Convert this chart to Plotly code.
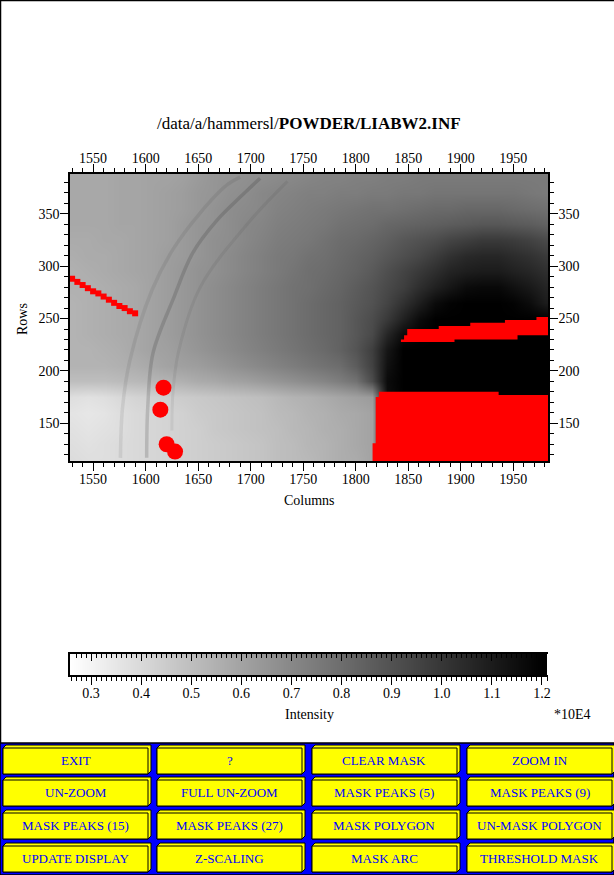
import plotly.graph_objects as go

W, H = 614, 875

# detector image, rows top to bottom, intensity in units of 10E4
col_vals = [1530, 1545, 1560, 1575, 1590, 1605, 1620, 1635, 1650, 1665, 1680, 1695, 1710, 1725, 1740, 1755,
            1770, 1785, 1800, 1815, 1830, 1845, 1860, 1875, 1890, 1905, 1920, 1935, 1950, 1965, 1980]
row_vals = [385, 370, 355, 340, 325, 310, 295, 280, 265, 250, 235, 220, 205, 190, 175, 160, 145, 130, 115]
intensity = [
    [.58, .58, .58, .59, .59, .60, .60, .61, .63, .65, .66, .67, .68, .69, .70, .71, .72, .72, .73, .73, .74, .74, .75, .75, .75, .75, .75, .75, .75, .75, .75],
    [.58, .58, .58, .59, .59, .60, .61, .62, .64, .65, .67, .68, .70, .71, .72, .73, .73, .74, .74, .75, .75, .76, .76, .77, .77, .77, .77, .77, .77, .76, .75],
    [.58, .58, .58, .59, .59, .60, .61, .62, .64, .66, .68, .69, .70, .72, .73, .74, .75, .76, .77, .78, .78, .79, .80, .81, .81, .82, .82, .82, .81, .80, .79],
    [.58, .58, .58, .59, .59, .60, .61, .63, .65, .66, .68, .70, .71, .73, .74, .75, .76, .78, .79, .80, .82, .83, .84, .85, .86, .87, .88, .88, .87, .86, .84],
    [.57, .57, .58, .58, .59, .60, .61, .63, .65, .67, .68, .70, .72, .74, .75, .76, .78, .80, .81, .83, .85, .88, .90, .92, .95, .97, .99, .99, .98, .96, .93],
    [.56, .57, .57, .58, .59, .60, .62, .63, .65, .67, .69, .71, .73, .75, .76, .78, .79, .81, .83, .85, .88, .91, .94, .98, 1.02, 1.05, 1.06, 1.06, 1.04, 1.02, .99],
    [.55, .56, .57, .58, .59, .60, .62, .64, .66, .67, .69, .71, .73, .75, .77, .79, .80, .82, .84, .87, .91, .95, .99, 1.03, 1.07, 1.09, 1.10, 1.10, 1.08, 1.06, 1.03],
    [.55, .55, .56, .57, .58, .60, .62, .64, .66, .68, .70, .72, .74, .76, .78, .79, .81, .83, .86, .89, .93, .97, 1.03, 1.08, 1.12, 1.16, 1.17, 1.17, 1.14, 1.11, 1.07],
    [.54, .55, .56, .57, .58, .60, .62, .64, .66, .68, .70, .72, .74, .76, .78, .80, .82, .84, .87, .90, .95, 1.02, 1.09, 1.16, 1.19, 1.20, 1.20, 1.20, 1.19, 1.16, 1.10],
    [.54, .55, .56, .57, .58, .60, .62, .64, .66, .68, .70, .72, .74, .76, .78, .80, .82, .84, .88, .92, .99, 1.08, 1.16, 1.20, 1.20, 1.20, 1.20, 1.20, 1.20, 1.20, 1.20],
    [.54, .55, .56, .57, .58, .60, .62, .64, .66, .68, .70, .72, .74, .76, .78, .80, .82, .84, .88, .93, 1.06, 1.16, 1.19, 1.20, 1.20, 1.20, 1.20, 1.20, 1.20, 1.20, 1.20],
    [.54, .54, .55, .56, .58, .60, .61, .63, .65, .67, .69, .71, .73, .75, .77, .79, .81, .84, .89, .97, 1.12, 1.20, 1.20, 1.20, 1.20, 1.20, 1.20, 1.20, 1.20, 1.20, 1.20],
    [.54, .54, .54, .55, .56, .58, .60, .61, .62, .64, .66, .68, .70, .72, .74, .76, .78, .80, .86, .96, 1.14, 1.20, 1.20, 1.20, 1.20, 1.20, 1.20, 1.20, 1.20, 1.20, 1.20],
    [.50, .50, .50, .51, .52, .53, .54, .55, .57, .58, .60, .61, .63, .65, .67, .69, .71, .74, .78, .92, 1.16, 1.20, 1.20, 1.20, 1.20, 1.20, 1.20, 1.20, 1.20, 1.20, 1.20],
    [.38, .37, .38, .40, .42, .43, .44, .45, .46, .47, .48, .49, .50, .52, .54, .55, .57, .59, .61, .63, 1.15, 1.20, 1.20, 1.20, 1.20, 1.20, 1.20, 1.20, 1.20, 1.20, 1.20],
    [.36, .35, .36, .38, .40, .41, .42, .43, .45, .46, .47, .48, .49, .51, .52, .54, .55, .57, .58, .60, 1.15, 1.20, 1.20, 1.20, 1.20, 1.20, 1.20, 1.20, 1.20, 1.20, 1.20],
    [.37, .36, .37, .38, .40, .41, .42, .43, .44, .46, .47, .48, .49, .50, .52, .53, .55, .56, .58, .60, 1.15, 1.20, 1.20, 1.20, 1.20, 1.20, 1.20, 1.20, 1.20, 1.20, 1.20],
    [.38, .37, .38, .39, .40, .41, .42, .43, .44, .45, .46, .47, .48, .50, .51, .53, .54, .56, .58, .60, 1.15, 1.20, 1.20, 1.20, 1.20, 1.20, 1.20, 1.20, 1.20, 1.20, 1.20],
    [.39, .38, .38, .39, .40, .41, .42, .43, .44, .45, .46, .47, .48, .50, .51, .52, .54, .56, .57, .60, 1.15, 1.20, 1.20, 1.20, 1.20, 1.20, 1.20, 1.20, 1.20, 1.20, 1.20],
]

# powder rings
ring1_x = [1576, 1578, 1585, 1606, 1626, 1652, 1678, 1690]
ring1_y = [117, 165, 210, 277, 316, 351, 378, 385]
ring2_x = [1601, 1602, 1607, 1626, 1645, 1668, 1690, 1709]
ring2_y = [117, 165, 217, 268, 313, 344, 366, 384]
ring3_x = [1625, 1626, 1631, 1652, 1700, 1735]
ring3_y = [143, 179, 217, 280, 344, 381]

# masked pixels
streak_x = [1530, 1535, 1540, 1545, 1550, 1555, 1560, 1565, 1570, 1575, 1580, 1585, 1590]
streak_y = [288, 285, 282, 279, 276, 274, 271, 268, 265, 262, 260, 257, 255]
spot_x = [1617, 1614, 1620, 1628]
spot_y = [184, 163, 130, 123]
lower_mask_x = [1816, 1816, 1819, 1819, 1822, 1822, 1936, 1936, 1983, 1983, 1816]
lower_mask_y = [114, 131, 131, 175, 175, 180, 180, 177, 177, 114, 114]
upper_mask_x = [1843, 1843, 1846, 1846, 1849, 1849, 1879, 1879, 1909, 1909, 1942, 1942, 1972, 1972, 1983,
                1983, 1954, 1954, 1894, 1894, 1843]
upper_mask_y = [227.5, 230, 230, 234, 234, 240, 240, 243, 243, 246, 246, 248.5, 248.5, 251.5, 251.5,
                234, 234, 230, 230, 227.5, 227.5]

cbar_levels = [.26, .30, .34, .38, .42, .46, .50, .54, .58, .62, .66, .70, .74, .78, .82, .86, .90, .94,
               .98, 1.02, 1.06, 1.10, 1.14, 1.18, 1.20]

x_ticks = [1550, 1600, 1650, 1700, 1750, 1800, 1850, 1900, 1950]
y_ticks = [150, 200, 250, 300, 350]
cbar_ticks = [.3, .4, .5, .6, .7, .8, .9, 1.0, 1.1, 1.2]
cbar_tick_text = ['0.3', '0.4', '0.5', '0.6', '0.7', '0.8', '0.9', '1.0', '1.1', '1.2']

button_labels = [
    ['EXIT', '?', 'CLEAR MASK', 'ZOOM IN'],
    ['UN-ZOOM', 'FULL UN-ZOOM', 'MASK PEAKS (5)', 'MASK PEAKS (9)'],
    ['MASK PEAKS (15)', 'MASK PEAKS (27)', 'MASK POLYGON', 'UN-MASK POLYGON'],
    ['UPDATE DISPLAY', 'Z-SCALING', 'MASK ARC', 'THRESHOLD MASK'],
]

FONT = 'Liberation Serif'
GRAYS = [[0, 'white'], [1, 'black']]


def px(x):
    return x / W


def py(y):
    return 1 - y / H


fig = go.Figure()

fig.add_trace(go.Heatmap(x=col_vals, y=row_vals, z=intensity, colorscale=GRAYS, zmin=.26, zmax=1.2,
                         zsmooth='best', showscale=False, hoverinfo='skip'))

for rx, ry, alpha, lw in [(ring1_x, ring1_y, .09, 3.5), (ring2_x, ring2_y, .17, 3.5), (ring3_x, ring3_y, .07, 3)]:
    fig.add_trace(go.Scatter(x=rx, y=ry, mode='lines', line=dict(color='rgba(30,30,30,%s)' % alpha, width=lw, shape='spline'),
                             xaxis='x2', yaxis='y2', showlegend=False, hoverinfo='skip'))

for mx, my in [(lower_mask_x, lower_mask_y), (upper_mask_x, upper_mask_y)]:
    fig.add_trace(go.Scatter(x=mx, y=my, mode='lines', fill='toself', fillcolor='#ff0000', line=dict(width=0),
                             xaxis='x2', yaxis='y2', showlegend=False, hoverinfo='skip'))

fig.add_trace(go.Scatter(x=streak_x, y=streak_y, mode='markers', marker=dict(symbol='square', size=6, color='#ff0000', line=dict(width=0)),
                         xaxis='x2', yaxis='y2', showlegend=False, hoverinfo='skip'))
fig.add_trace(go.Scatter(x=spot_x, y=spot_y, mode='markers', marker=dict(symbol='circle', size=16, color='#ff0000', line=dict(width=0)),
                         xaxis='x2', yaxis='y2', showlegend=False, hoverinfo='skip'))

# colour wedge
fig.add_trace(go.Heatmap(x=cbar_levels, y=[0, 1], z=[cbar_levels, cbar_levels], colorscale=GRAYS, zmin=.26, zmax=1.2,
                         zsmooth='best', showscale=False, xaxis='x3', yaxis='y3', hoverinfo='skip'))
fig.add_trace(go.Scatter(x=[None], y=[None], xaxis='x4', yaxis='y3', showlegend=False, hoverinfo='skip'))

tick_font = dict(family=FONT, size=14, color='black')
axis_style = dict(showgrid=False, zeroline=False, showline=True, linecolor='black', linewidth=1.5, automargin=False,
                  ticks='outside', ticklen=8, tickwidth=1, tickcolor='black', tickfont=tick_font)
minor_10 = dict(dtick=10, ticks='outside', ticklen=4, tickwidth=1, tickcolor='black', showgrid=False)

x_dom = [px(70), px(548)]
y_dom = [py(461), py(174)]
x_rng = [1528, 1983]
y_rng = [114, 388]

fig.update_layout(
    width=W, height=H, margin=dict(l=0, r=0, t=0, b=0, autoexpand=False), paper_bgcolor='white', plot_bgcolor='white',
    showlegend=False,
    xaxis=dict(domain=x_dom, range=x_rng, tickmode='array', tickvals=x_ticks, minor=minor_10, ticklabelstandoff=-4, **axis_style),
    yaxis=dict(domain=y_dom, range=y_rng, tickmode='array', tickvals=y_ticks, minor=minor_10, ticklabelstandoff=-2, **axis_style),
    xaxis2=dict(overlaying='x', side='top', anchor='y2', range=x_rng, tickmode='array', tickvals=x_ticks, minor=minor_10, ticklabelstandoff=-4, **axis_style),
    yaxis2=dict(overlaying='y', side='right', anchor='x2', range=y_rng, tickmode='array', tickvals=y_ticks, minor=minor_10, ticklabelstandoff=-2, **axis_style),
    xaxis3=dict(domain=x_dom, anchor='y3', range=[.258, 1.212], tickmode='array', tickvals=cbar_ticks, ticktext=cbar_tick_text, ticklabelstandoff=-4,
                minor=dict(dtick=.01, ticks='outside', ticklen=4, tickwidth=1, tickcolor='black', showgrid=False), **axis_style),
    yaxis3=dict(domain=[py(675), py(654)], anchor='x3', range=[0, 1], showticklabels=False, showgrid=False, zeroline=False, automargin=False,
                ticks='', showline=True, linecolor='black', linewidth=1.5),
    xaxis4=dict(overlaying='x3', side='top', anchor='y3', range=[.258, 1.212], tickmode='array', tickvals=cbar_ticks, automargin=False,
                showticklabels=False, showgrid=False, zeroline=False, showline=True, linecolor='black', linewidth=1.5,
                ticks='inside', ticklen=7, tickwidth=1, tickcolor='black',
                minor=dict(dtick=.01, ticks='inside', ticklen=4, tickwidth=1, tickcolor='black', showgrid=False)),
)

shapes = [
    dict(type='line', xref='paper', yref='paper', x0=px(.5), x1=px(.5), y0=py(0), y1=py(743), line=dict(color='black', width=1.5)),
    dict(type='line', xref='paper', yref='paper', x0=0, x1=1, y0=py(.5), y1=py(.5), line=dict(color='black', width=1.5)),
    dict(type='rect', xref='paper', yref='paper', x0=0, x1=1, y0=py(H), y1=py(743), fillcolor='#0000ff', line=dict(color='black', width=1.5)),
]

# push buttons
col_left = [3, 157, 312, 467]
row_top = [748, 780, 813, 846]
btn_w, btn_h, bevel = 145, 26, 3
annotations = []
for r, labels in enumerate(button_labels):
    for c, label in enumerate(labels):
        x0, y0 = col_left[c], row_top[r]
        x1, y1 = x0 + btn_w, y0 + btn_h
        path = 'M %f,%f L %f,%f L %f,%f L %f,%f L %f,%f L %f,%f Z' % (
            px(x0), py(y0), px(x0 + bevel), py(y0 - bevel), px(x1 + bevel), py(y0 - bevel),
            px(x1 + bevel), py(y1 - bevel), px(x1), py(y1), px(x0), py(y1))
        shapes.append(dict(type='path', xref='paper', yref='paper', path=path, fillcolor='#ffff00', line=dict(color='black', width=1)))
        shapes.append(dict(type='rect', xref='paper', yref='paper', x0=px(x0), x1=px(x1), y0=py(y1), y1=py(y0),
                           fillcolor='#ffff00', line=dict(color='black', width=1)))
        annotations.append(dict(text=label, xref='paper', yref='paper', x=px(x0 + btn_w / 2), y=py(y0 + btn_h / 2 - 1), showarrow=False,
                                xanchor='center', yanchor='middle', font=dict(family=FONT, size=13, color='#0000ff')))

for text, x, y, size, angle in [
    ('/data/a/hammersl/<b>POWDER/LIABW2.INF</b>', 309, 124, 17, 0),
    ('Columns', 309, 500, 14, 0),
    ('Rows', 22, 319, 14, -90),
    ('Intensity', 309, 714, 14, 0),
    ('*10E4', 572, 714, 14, 0),
]:
    annotations.append(dict(text=text, xref='paper', yref='paper', x=px(x), y=py(y), showarrow=False, textangle=angle,
                            xanchor='center', yanchor='middle', font=dict(family=FONT, size=size, color='black')))

fig.update_layout(shapes=shapes, annotations=annotations)

fig.write_html("out.html", config=dict(displayModeBar=False),
               post_script="document.body.style.margin='0';")
